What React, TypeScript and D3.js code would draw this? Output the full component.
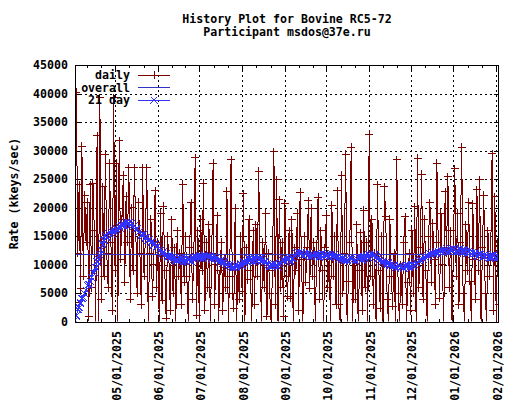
import React from "react";
import * as d3 from "d3";

const TITLE_LINES = ["History Plot for Bovine RC5-72", "Participant msdos@37e.ru"];
const Y_LABEL = "Rate (kkeys/sec)";
const START_DATE = "2025-04-02";
const X_TICK_LABELS = [
  "05/01/2025", "06/01/2025", "07/01/2025", "08/01/2025", "09/01/2025",
  "10/01/2025", "11/01/2025", "12/01/2025", "01/01/2026", "02/01/2026",
];
const Y_TICKS = [0, 5000, 10000, 15000, 20000, 25000, 30000, 35000, 40000, 45000];
const SERIES_NAMES = ["daily", "overall", "21 day"];

const DAILY = [
  3500, 40200, 12000, 24000, 5800, 30800, 8000, 22200, 14000, 21000,
  900, 24000, 6000, 24300, 16000, 0, 32600, 0, 39300, 4000,
  23700, 8000, 29400, 12000, 6000, 27800, 14000, 2000, 39300, 9000,
  27800, 0, 31700, 11000, 18000, 25700, 7000, 22000, 14000, 27000,
  4000, 20000, 9000, 27000, 16000, 5000, 21000, 12000, 3000, 27000,
  8000, 15000, 27000, 0, 12000, 18000, 4400, 10000, 23000, 6000,
  14000, 0, 19000, 3800, 20300, 9000, 700, 15000, 11000, 2000,
  17900, 5000, 13000, 0, 16000, 8000, 12000, 3000, 24100, 7000,
  15000, 7900, 0, 13000, 20900, 4000, 11000, 28800, 1200, 16000,
  0, 18000, 9000, 24300, 2100, 14000, 6000, 17000, 0, 12000,
  27800, 3000, 10000, 18600, 0, 9000, 14000, 2000, 11000, 6000,
  22900, 0, 8000, 28400, 5000, 2400, 19900, 0, 10000, 4000,
  15000, 5300, 22500, 0, 13000, 7400, 18000, 9000, 0, 16000,
  3000, 17000, 8000, 26400, 11000, 0, 14000, 6000, 19000, 1000,
  12000, 5000, 0, 9000, 29800, 3000, 24900, 0, 21400, 6000,
  14000, 900, 20800, 8000, 4400, 16000, 4150, 17900, 0, 13000,
  9000, 19000, 2000, 22700, 11000, 0, 15000, 7000, 13000, 21200,
  5900, 19900, 8000, 14000, 0, 12000, 21800, 4000, 16000, 9000,
  0, 13000, 18700, 6000, 11000, 0, 20400, 8000, 15000, 3000,
  23000, 3000, 0, 25700, 5000, 12000, 29400, 0, 7100, 14000,
  30600, 0, 11000, 4000, 17000, 0, 9000, 15600, 2000, 19600,
  6000, 14000, 0, 32900, 8000, 18000, 3000, 12000, 0, 24000,
  9000, 2400, 15000, 0, 23700, 18400, 4000, 0, 18000, 8000,
  2800, 12000, 0, 28400, 5000, 0, 10000, 3000, 14000, 18400,
  0, 7000, 12000, 2000, 16000, 5000, 20200, 0, 28700, 6000,
  13000, 25900, 4000, 18000, 9000, 0, 15000, 20900, 7000, 17300,
  11000, 3000, 27800, 14000, 4150, 19000, 10000, 0, 22800, 12000,
  25400, 6000, 16000, 0, 13000, 26800, 8000, 19000, 3000, 14000,
  30600, 5000, 0, 17000, 9000, 21000, 7100, 0, 20700, 11000,
  4000, 23200, 9000, 24900, 0, 13000, 22200, 5000, 0, 16000,
  8000, 12000, 29500, 2000, 21900, 0, 14000, 3000,
];

const DAY21 = [
  300, 1100, 2200, 2500, 3300, 4100, 4300, 5000, 5600, 6400,
  6600, 7100, 7800, 8600, 8700, 9500, 10600, 10900, 11800, 12600,
  13600, 14300, 15200, 14800, 15600, 15300, 15900, 15400, 16200, 15800,
  16300, 16000, 16800, 16400, 16900, 17300, 16800, 17500, 17100, 17400,
  16900, 17300, 16600, 16900, 16200, 16400, 15700, 15900, 15200, 15000,
  15400, 14700, 14900, 14300, 14500, 13900, 14100, 13500, 13700, 13100,
  13300, 12700, 12500, 12000, 12300, 11700, 11900, 11400, 11600, 11200,
  11500, 10900, 11200, 10700, 11000, 10600, 11100, 10800, 10500, 11000,
  10700, 11200, 10800, 11000, 10600, 11300, 10900, 11500, 11100, 11300,
  11600, 11200, 11500, 11100, 11700, 11300, 11600, 11200, 11500, 11000,
  11400, 10900, 11200, 10700, 11000, 10500, 10800, 10300, 10600, 10100,
  10000, 9700, 10100, 9600, 9900, 9500, 9900, 9600, 10000, 9700,
  10200, 9900, 10500, 10200, 10800, 10500, 11100, 10700, 11000, 10600,
  11200, 10800, 11300, 10900, 11100, 10700, 11000, 10500, 10700, 10200,
  10000, 9700, 10100, 9800, 10200, 9800, 10000, 9600, 10100, 10400,
  10800, 11100, 10700, 11200, 10900, 11000, 10600, 10500, 11100, 11600,
  12100, 11800, 12200, 11900, 12100, 11700, 12000, 11800, 12100, 11600,
  11900, 11500, 11800, 11600, 11900, 11500, 11800, 11400, 11700, 12000,
  11600, 11900, 11500, 11800, 11400, 11700, 11900, 11500, 11800, 11300,
  11500, 11000, 11200, 10800, 11100, 10700, 11000, 10800, 11100, 10900,
  11200, 10800, 11000, 10700, 11100, 11400, 11000, 11300, 10900, 11400,
  11100, 11600, 11300, 11800, 11500, 11900, 11600, 11800, 11400, 11000,
  10700, 10900, 10400, 10600, 10200, 10500, 10100, 10300, 9900, 10000,
  9700, 9900, 9500, 9800, 9600, 9900, 9500, 9700, 9400, 9800,
  9600, 9900, 9500, 9800, 10100, 9700, 10000, 10400, 10200, 10700,
  10900, 11300, 11000, 11500, 11200, 11700, 11500, 11900, 11700, 12100,
  11900, 12300, 12000, 12400, 12200, 12600, 12300, 12700, 12500, 12900,
  12600, 12400, 12800, 12500, 12900, 12600, 12300, 12700, 12400, 12800,
  12500, 12200, 12600, 12300, 12000, 12400, 12100, 11800, 12200, 11900,
  12100, 11700, 11500, 11900, 11600, 11300, 11700, 11400, 11800, 11500,
  11200, 11600, 11300, 11700, 11400, 11100, 11500, 11300,
];

const OVERALL = 11900;

const FONT = "'DejaVu Sans Mono', 'Liberation Mono', monospace";
const FS = 11.6;
const C_DAILY = "#7a0000";
const C_OVERALL = "#3434c4";
const C_21 = "#3232ff";

export default function App() {
  const L = 75, R = 499, T = 65, B = 322;
  const parseISO = d3.utcParse("%Y-%m-%d");
  const parseTick = d3.utcParse("%m/%d/%Y");
  const start = parseISO(START_DATE) as Date;
  const dates = DAILY.map((_, i) => d3.utcDay.offset(start, i));

  const x = d3.scaleUtc().domain([dates[0], dates[dates.length - 1]]).range([L, R]);
  const y = d3.scaleLinear().domain([0, 45000]).range([B, T]);

  const tickDates = X_TICK_LABELS.map((s) => parseTick(s) as Date);
  const extended = [d3.utcMonth.offset(tickDates[0], -1), ...tickDates, d3.utcMonth.offset(tickDates[tickDates.length - 1], 1)];
  const minor: number[] = [];
  for (let i = 0; i < extended.length - 1; i++) {
    const a = extended[i].getTime(), b = extended[i + 1].getTime();
    for (let k = 1; k <= 2; k++) {
      const px = x(new Date(a + ((b - a) * k) / 3));
      if (px > L + 0.5 && px < R - 0.5) minor.push(px);
    }
  }

  const lineGen = d3.line<number>().x((_, i) => x(dates[i])).y((d) => y(d));
  const dailyPath = lineGen(DAILY) || "";
  const d21Path = lineGen(DAY21) || "";

  const plus = (cx: number, cy: number, s = 4) => `M${cx - s},${cy}h${2 * s}M${cx},${cy - s}v${2 * s}`;
  const cross = (cx: number, cy: number, s = 3.5) => `M${cx - s},${cy - s}l${2 * s},${2 * s}M${cx - s},${cy + s}l${2 * s},${-2 * s}`;

  const dailyMarks = DAILY.map((v, i) => (v > 0 ? plus(x(dates[i]), y(v)) : "")).join("");
  const d21Marks = DAY21.map((v, i) => (v > 0 ? cross(x(dates[i]), y(v)) : "")).join("");

  const legendY = [75, 87.7, 100.3];
  const textProps = { fontFamily: FONT, fontSize: FS, fontWeight: "bold" as const, fill: "#000" };

  return (
    <svg width={520} height={400} style={{ position: "absolute", left: 0, top: 0, background: "#fff" }}>
      <rect x={0} y={0} width={520} height={400} fill="#fff" />
      <defs>
        <clipPath id="plotclip">
          <rect x={L} y={T} width={R - L} height={B - T - 0.5} />
        </clipPath>
      </defs>
      {/* grid */}
      <g stroke="#000" strokeWidth={1} strokeDasharray="2,3" shapeRendering="crispEdges">
        {Y_TICKS.filter((t) => t > 0 && t < 45000).map((t) => (
          <line key={"gy" + t} x1={L} x2={R} y1={Math.round(y(t)) + 0.5} y2={Math.round(y(t)) + 0.5} />
        ))}
        {tickDates.map((d, i) => (
          <line key={"gx" + i} x1={Math.round(x(d)) + 0.5} x2={Math.round(x(d)) + 0.5} y1={T} y2={B} />
        ))}
      </g>
      {/* ticks */}
      <g stroke="#000" strokeWidth={1} shapeRendering="crispEdges">
        {Y_TICKS.map((t) => {
          const yy = Math.round(y(t)) + 0.5;
          return (
            <g key={"ty" + t}>
              <line x1={L} x2={L + 5} y1={yy} y2={yy} />
              <line x1={R - 5} x2={R} y1={yy} y2={yy} />
            </g>
          );
        })}
        {tickDates.map((d, i) => {
          const xx = Math.round(x(d)) + 0.5;
          return (
            <g key={"tx" + i}>
              <line x1={xx} x2={xx} y1={B} y2={B - 5} />
              <line x1={xx} x2={xx} y1={T} y2={T + 5} />
            </g>
          );
        })}
        {minor.map((px, i) => {
          const xx = Math.round(px) + 0.5;
          return (
            <g key={"mx" + i}>
              <line x1={xx} x2={xx} y1={B} y2={B - 3} />
              <line x1={xx} x2={xx} y1={T} y2={T + 3} />
            </g>
          );
        })}
      </g>
      {/* data */}
      <g clipPath="url(#plotclip)" fill="none" strokeWidth={1} shapeRendering="crispEdges">
        <path d={dailyPath} stroke={C_DAILY} />
        <path d={dailyMarks} stroke={C_DAILY} />
        <line x1={L} x2={R} y1={y(OVERALL)} y2={y(OVERALL)} stroke={C_OVERALL} />
        <path d={d21Path} stroke={C_21} />
        <path d={d21Marks} stroke={C_21} />
      </g>
      {/* legend */}
      <g>
        {SERIES_NAMES.map((name, i) => (
          <text key={name} x={130} y={legendY[i] + 4} textAnchor="end" {...textProps}>{name}</text>
        ))}
        <g fill="none" strokeWidth={1} shapeRendering="crispEdges">
          <line x1={138} x2={170} y1={legendY[0]} y2={legendY[0]} stroke={C_DAILY} />
          <path d={plus(154, legendY[0])} stroke={C_DAILY} />
          <line x1={138} x2={170} y1={legendY[1]} y2={legendY[1]} stroke={C_OVERALL} />
          <line x1={138} x2={170} y1={legendY[2]} y2={legendY[2]} stroke={C_21} />
          <path d={cross(154, legendY[2])} stroke={C_21} />
        </g>
      </g>
      {/* border */}
      <rect x={L + 0.5} y={T + 0.5} width={R - L - 1} height={B - T} fill="none" stroke="#000" strokeWidth={1} shapeRendering="crispEdges" />
      {/* y tick labels */}
      {Y_TICKS.map((t) => (
        <text key={"yl" + t} x={68} y={y(t) + 4} textAnchor="end" {...textProps}>{t}</text>
      ))}
      {/* x tick labels */}
      {tickDates.map((d, i) => {
        const xx = x(d) + 5.5;
        return (
          <text key={"xl" + i} x={xx} y={331} transform={`rotate(-90 ${xx} 331)`} textAnchor="end" {...textProps}>
            {X_TICK_LABELS[i]}
          </text>
        );
      })}
      {/* y label */}
      <text x={18} y={193.5} transform="rotate(-90 18 193.5)" textAnchor="middle" {...textProps}>{Y_LABEL}</text>
      {/* title */}
      <text x={287} y={23} textAnchor="middle" {...textProps}>{TITLE_LINES[0]}</text>
      <text x={287} y={36} textAnchor="middle" {...textProps}>{TITLE_LINES[1]}</text>
    </svg>
  );
}
